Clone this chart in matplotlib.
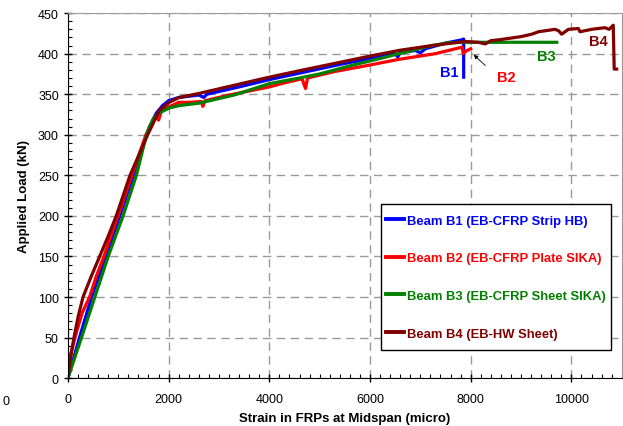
import matplotlib
matplotlib.use("Agg")
import matplotlib.pyplot as plt
from matplotlib.ticker import MultipleLocator
from matplotlib.patches import Rectangle

plt.rcParams['font.family'] = ['Liberation Sans', 'DejaVu Sans']

# strain (micro) / load (kN)
b1_strain = [0, 230, 470, 750, 1030, 1300, 1560, 1700, 1760, 1800, 1880, 2000, 2200, 2600, 2700, 2760,
             3400, 4000, 4600, 5500, 6200, 6500, 6550, 6600, 6900, 7000, 7100, 7500, 7820, 7860, 7860]
b1_load = [0, 50, 100, 150, 200, 250, 300, 320, 327, 330, 336, 342, 346, 349, 346, 350,
           359, 368, 376, 388, 396, 400, 396, 401, 404, 401, 406, 413, 417, 418, 371]

b2_strain = [0, 60, 140, 280, 430, 560, 715, 850, 995, 1270, 1550, 1700, 1750, 1800, 1850, 1950, 2100,
             2200, 2400, 2650, 2680, 2720, 3200, 4000, 4300, 4650, 4720, 4760, 5300, 5914, 6574, 7300,
             7830, 7850, 7900, 8000]
b2_load = [0, 30, 50, 80, 100, 125, 150, 175, 200, 250, 300, 318, 322, 318, 328, 333, 337,
           340, 340, 341, 335, 342, 349, 359, 364, 369, 357, 370, 378, 385, 393, 400,
           408, 400, 403, 406]

b3_strain = [0, 270, 535, 800, 1095, 1360, 1560, 1617, 1700, 1815, 2013, 2211, 2607, 3300, 4000, 4600,
             5000, 5600, 6200, 6574, 7234, 7564, 7800, 9709]
b3_load = [0, 50, 100, 150, 200, 250, 300, 310, 320, 327, 333, 336, 339, 349, 363, 370,
           375, 385, 394, 400, 410, 413.5, 414, 414]

b4_strain = [0, 50, 120, 200, 300, 460, 630, 800, 960, 1234, 1584, 1815, 2013, 2211, 2607, 3300, 4000,
             4600, 5300, 6000, 6574, 7234, 7894, 8150, 8290, 8400, 8554, 9000, 9213, 9346, 9676, 9750,
             9807, 9940, 10138, 10171, 10402, 10666, 10750, 10831, 10850, 10900]
b4_load = [0, 25, 50, 75, 100, 125, 150, 175, 200, 250, 300, 330, 340, 346, 351, 361, 371,
           379, 388, 397, 404, 410, 415, 414, 412, 416, 417, 421, 424, 427, 430, 428,
           424, 430, 431, 427, 430, 432, 430, 435, 381, 381]

labels = ['Beam B1 (EB-CFRP Strip HB)', 'Beam B2 (EB-CFRP Plate SIKA)',
          'Beam B3 (EB-CFRP Sheet SIKA)', 'Beam B4 (EB-HW Sheet)']
colors = ['#0000FF', '#FF0000', '#008000', '#800000']

fig = plt.figure(figsize=(6.23, 4.27), dpi=100)
ax = fig.add_axes([0.109, 0.112, 0.889, 0.855])

series = [(b1_strain, b1_load), (b2_strain, b2_load), (b3_strain, b3_load), (b4_strain, b4_load)]
for (xs, ys), lab, c in zip(series, labels, colors):
    ax.plot(xs, ys, color=c, lw=2.3, label=lab)

ax.set_xlim(0, 11000)
ax.set_ylim(0, 450)
ax.xaxis.set_major_locator(MultipleLocator(2000))
ax.xaxis.set_minor_locator(MultipleLocator(200))
ax.yaxis.set_major_locator(MultipleLocator(50))
ax.yaxis.set_minor_locator(MultipleLocator(10))
ax.tick_params(which='major', direction='inout', length=6, width=1, labelsize=9)
ax.tick_params(axis='x', which='major', pad=8)
ax.tick_params(which='minor', direction='in', length=3, width=0.8)
ax.grid(True, which='major', color='#999999', ls=(0, (6, 4)), lw=1)
ax.set_axisbelow(True)
for sp in ['top', 'right']:
    ax.spines[sp].set_color('#999999')

ax.set_xlabel('Strain in FRPs at Midspan (micro)', fontsize=9.5, fontweight='bold', labelpad=5)
ax.set_ylabel('Applied Load (kN)', fontsize=9.5, fontweight='bold', labelpad=6)
fig.text(0.004, 0.052, '0', fontsize=9)

bold = dict(fontsize=10.5, fontweight='bold', ha='center', va='center')
ax.text(7583, 377, 'B1', color=colors[0], **bold)
ax.text(8712, 371, 'B2', color=colors[1], **bold)
ax.text(9504, 397, 'B3', color=colors[2], **bold)
ax.text(10534, 415, 'B4', color=colors[3], **bold)
ax.annotate('', xy=(8020, 401), xytext=(8330, 383),
            arrowprops=dict(arrowstyle='-|>', color='black', lw=0.6, mutation_scale=6))

# legend box drawn separately so the padding can differ per direction
ax.add_patch(Rectangle((0.565, 0.077), 0.415, 0.400, transform=ax.transAxes,
                       facecolor='white', edgecolor='black', lw=1, zorder=4.5))
leg = ax.legend(loc='center', bbox_to_anchor=(0.7725, 0.277), frameon=False,
                handlelength=1.4, handletextpad=0.25, labelspacing=1.95, borderpad=0.2,
                prop={'size': 9.4, 'weight': 'bold'})
for t, c in zip(leg.get_texts(), colors):
    t.set_color(c)
for h in leg.get_lines():
    h.set_linewidth(2.8)

fig.savefig('out.png', dpi=100)
